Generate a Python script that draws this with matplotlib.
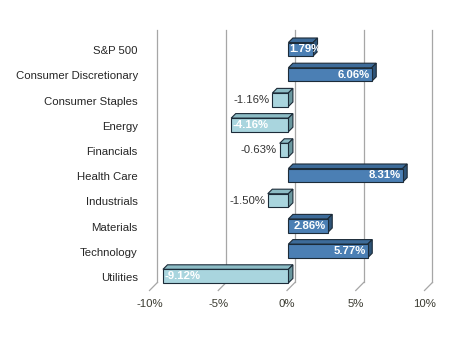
import matplotlib
matplotlib.use("Agg")
import matplotlib.pyplot as plt
from matplotlib.patches import Polygon

plt.rcParams['font.family'] = ['Liberation Sans', 'DejaVu Sans']

sectors = ["S&P 500", "Consumer Discretionary", "Consumer Staples", "Energy",
           "Financials", "Health Care", "Industrials", "Materials",
           "Technology", "Utilities"]
returns = [1.79, 6.06, -1.16, -4.16, -0.63, 8.31, -1.50, 2.86, 5.77, -9.12]
tick_values = [-10, -5, 0, 5, 10]
tick_labels = ["-10%", "-5%", "0%", "5%", "10%"]

W, H = 467, 341
fig = plt.figure(figsize=(W / 100, H / 100), dpi=100)
ax = fig.add_axes([149.5 / W, (H - 290.5) / H, 275 / W, 252 / H])
ax.set_xlim(-10, 10)
ax.set_ylim(9.5, -0.5)
ax.axis("off")

# depth offsets (data units) of the wall and of the bars
wall_dx, wall_dy = 0.58, -0.32
bar_dx, bar_dy = 0.33, -0.18
bar_x0, bar_y0 = 0.1, -0.07
bar_h = 0.54

grid_c = "#a6a6a6"
n = len(sectors)
bottom, top = n - 0.5, -0.5
for v, lab in zip(tick_values, tick_labels):
    ax.plot([v + wall_dx, v + wall_dx], [bottom + wall_dy, top + wall_dy],
            color=grid_c, lw=0.9, clip_on=False, zorder=1)
    ax.plot([v, v + wall_dx], [bottom, bottom + wall_dy],
            color=grid_c, lw=0.9, clip_on=False, zorder=1)
    ax.text(v, bottom + 0.55, lab, ha="center", va="center",
            fontsize=8.2, color="#3a3a30")

pos_c = ("#4b7fb4", "#3d6b99", "#2e5478")
neg_c = ("#a9d5de", "#8cbcc5", "#6a979e")
edge = "#1c2b38"

for i, (name, val) in enumerate(zip(sectors, returns)):
    front, topc, side = pos_c if val >= 0 else neg_c
    x0, x1 = bar_x0, bar_x0 + val
    lo, hi = min(x0, x1), max(x0, x1)
    yt = i - bar_h / 2 + bar_y0
    yb = i + bar_h / 2 + bar_y0
    # top face
    ax.add_patch(Polygon([(lo, yt), (hi, yt), (hi + bar_dx, yt + bar_dy),
                          (lo + bar_dx, yt + bar_dy)], closed=True,
                         fc=topc, ec=edge, lw=0.8, zorder=3, clip_on=False))
    # side face
    ax.add_patch(Polygon([(hi, yt), (hi + bar_dx, yt + bar_dy),
                          (hi + bar_dx, yb + bar_dy), (hi, yb)], closed=True,
                         fc=side, ec=edge, lw=0.8, zorder=3, clip_on=False))
    # front face
    ax.add_patch(Polygon([(lo, yt), (hi, yt), (hi, yb), (lo, yb)], closed=True,
                         fc=front, ec=edge, lw=0.8, zorder=4, clip_on=False))

    label = f"{val:.2f}%"
    yc = (yt + yb) / 2
    if val >= 2.5:
        ax.text(hi - 0.12, yc, label, ha="right", va="center", fontsize=8.2,
                fontweight="bold", color="white", zorder=6)
    elif val >= 0:
        ax.text(lo + 0.05, yc, label, ha="left", va="center", fontsize=8.2,
                fontweight="bold", color="white", zorder=6)
    elif abs(val) > 3:
        ax.text(lo + 0.08, yc, label, ha="left", va="center", fontsize=8.2,
                fontweight="bold", color="white", zorder=6)
    else:
        ax.text(lo - 0.2, yc, label, ha="right", va="center", fontsize=8.2,
                color="#333333", zorder=6)

    ax.text(-10.85, i, name, ha="right", va="center", fontsize=8.2,
            color="#262626")

fig.savefig("out.png", dpi=100)
